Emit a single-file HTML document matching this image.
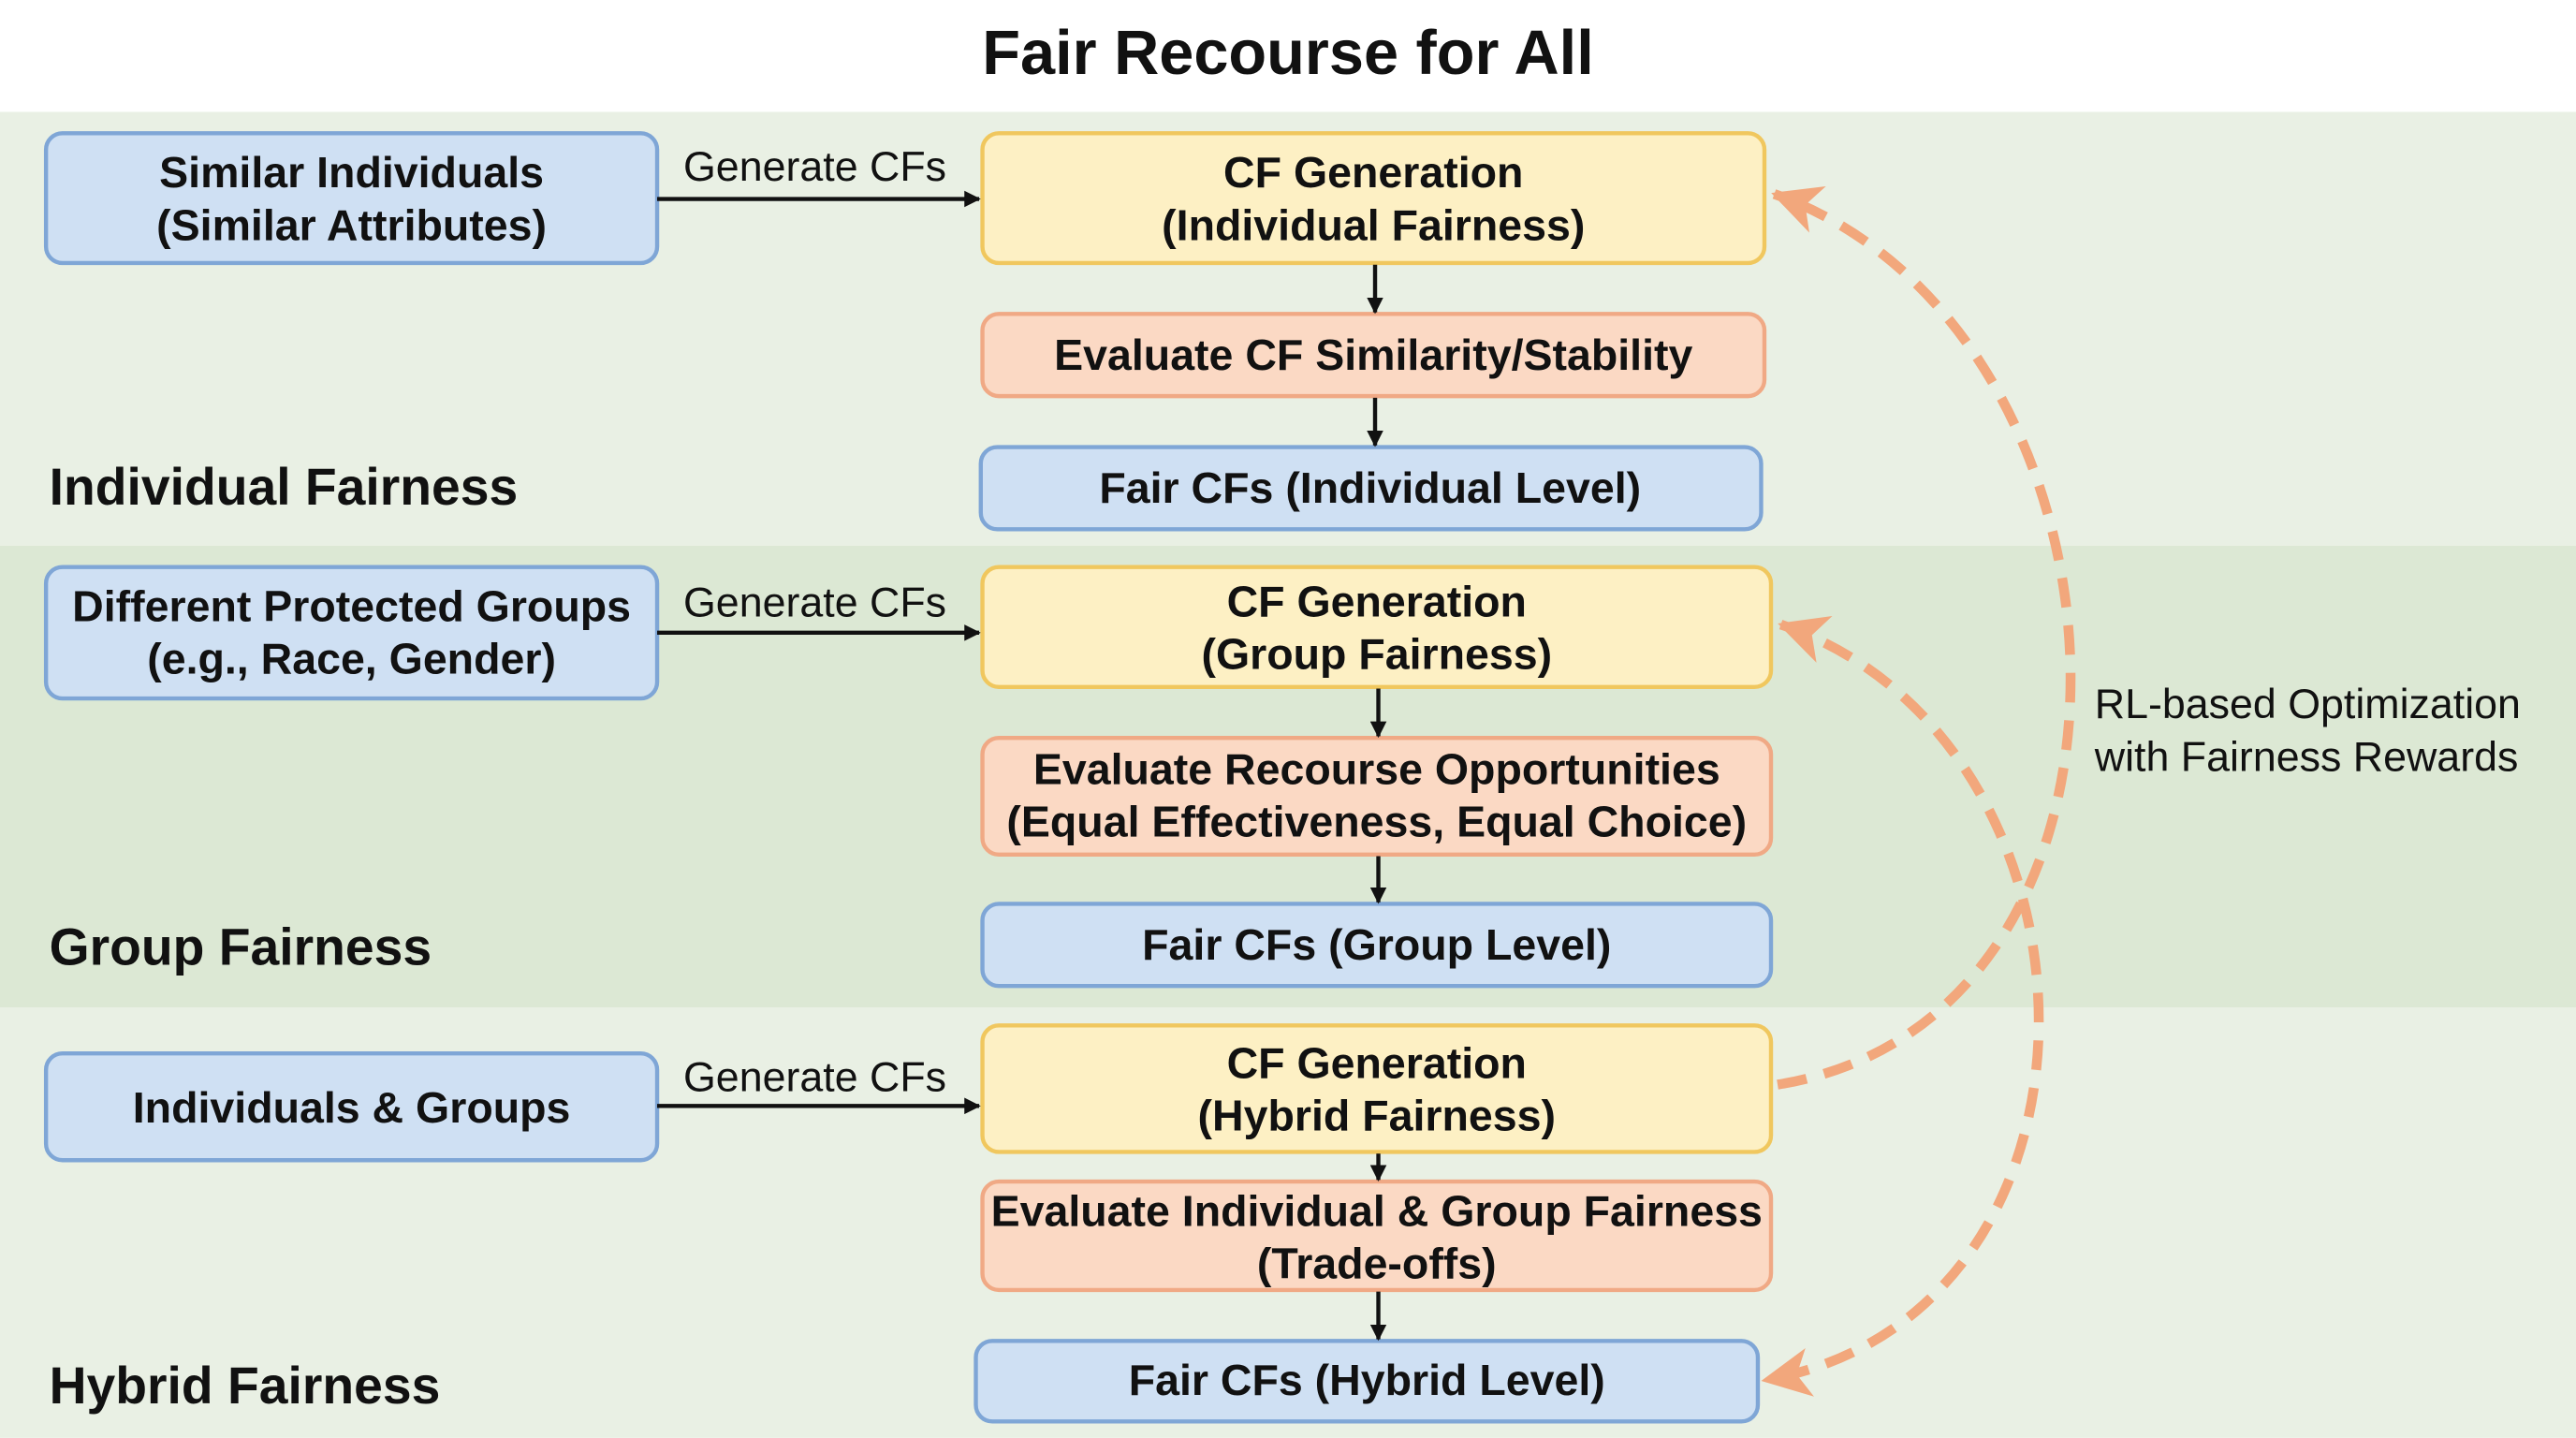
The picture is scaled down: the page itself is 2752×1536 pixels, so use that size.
<!DOCTYPE html>
<html><head><meta charset="utf-8"><style>
html,body{margin:0;padding:0;background:#fff}
svg{display:block}
text{font-family:"Liberation Sans",Arial,sans-serif;fill:#111}
.b{font-weight:bold;font-size:26.5px}
.n{font-size:25.5px}
.h{font-weight:bold;font-size:31.5px}
</style></head><body>
<svg width="2752" height="1536" viewBox="0 0 1568 875" xmlns="http://www.w3.org/2000/svg">
<defs>
<marker id="ah" markerWidth="10" markerHeight="10" refX="9" refY="5" orient="auto" markerUnits="userSpaceOnUse"><path d="M0,0 L10,5 L0,10 z" fill="#111"/></marker>
<marker id="oh" markerWidth="34" markerHeight="34" refX="30" refY="17" orient="auto-start-reverse" markerUnits="userSpaceOnUse"><path d="M2,2 L32,17 L2,32 L10,17 z" fill="#f2a77c"/></marker>
</defs>
<rect x="0" y="0" width="1568" height="875" fill="#fff"/>
<rect x="0" y="68" width="1568" height="264" fill="#e9f0e4"/>
<rect x="0" y="332" width="1568" height="281" fill="#dce8d4"/>
<rect x="0" y="613" width="1568" height="262" fill="#e9f0e4"/>
<text x="784" y="45" text-anchor="middle" style="font-weight:bold;font-size:38px">Fair Recourse for All</text>

<g stroke-width="2.5">
<rect x="28" y="81" width="372" height="79" rx="10" fill="#cfe0f3" stroke="#7fa6d6"/>
<rect x="598" y="81" width="476" height="79" rx="10" fill="#fdf0c4" stroke="#f0c75e"/>
<rect x="598" y="191" width="476" height="50" rx="10" fill="#fbd9c4" stroke="#f0a985"/>
<rect x="597" y="272" width="475" height="50" rx="10" fill="#cfe0f3" stroke="#7fa6d6"/>
<rect x="28" y="345" width="372" height="80" rx="10" fill="#cfe0f3" stroke="#7fa6d6"/>
<rect x="598" y="345" width="480" height="73" rx="10" fill="#fdf0c4" stroke="#f0c75e"/>
<rect x="598" y="449" width="480" height="71" rx="10" fill="#fbd9c4" stroke="#f0a985"/>
<rect x="598" y="550" width="480" height="50" rx="10" fill="#cfe0f3" stroke="#7fa6d6"/>
<rect x="28" y="641" width="372" height="65" rx="10" fill="#cfe0f3" stroke="#7fa6d6"/>
<rect x="598" y="624" width="480" height="77" rx="10" fill="#fdf0c4" stroke="#f0c75e"/>
<rect x="598" y="719" width="480" height="66" rx="10" fill="#fbd9c4" stroke="#f0a985"/>
<rect x="594" y="816" width="476" height="49" rx="10" fill="#cfe0f3" stroke="#7fa6d6"/>
</g>

<g stroke="#111" stroke-width="2.5" marker-end="url(#ah)">
<line x1="400" y1="121" x2="596" y2="121"/>
<line x1="400" y1="385" x2="596" y2="385"/>
<line x1="400" y1="673" x2="596" y2="673"/>
<line x1="837" y1="161" x2="837" y2="190"/>
<line x1="837" y1="242" x2="837" y2="271"/>
<line x1="839" y1="419" x2="839" y2="448"/>
<line x1="839" y1="521" x2="839" y2="549"/>
<line x1="839" y1="702" x2="839" y2="718"/>
<line x1="839" y1="786" x2="839" y2="815"/>
</g>

<g fill="none" stroke="#f2a77c" stroke-width="6" stroke-dasharray="18,11">
<path d="M1082,660 C1330,620 1310,200 1080,118" marker-end="url(#oh)"/>
<path d="M1084,380 C1290,450 1300,800 1074,840" marker-start="url(#oh)" marker-end="url(#oh)"/>
</g>

<text class="b" x="214" y="114" text-anchor="middle">Similar Individuals</text>
<text class="b" x="214" y="146" text-anchor="middle">(Similar Attributes)</text>
<text class="b" x="836" y="114" text-anchor="middle">CF Generation</text>
<text class="b" x="836" y="146" text-anchor="middle">(Individual Fairness)</text>
<text class="b" x="836" y="225" text-anchor="middle">Evaluate CF Similarity/Stability</text>
<text class="b" x="834" y="306" text-anchor="middle">Fair CFs (Individual Level)</text>
<text class="h" x="30" y="307">Individual Fairness</text>

<text class="b" x="214" y="378" text-anchor="middle">Different Protected Groups</text>
<text class="b" x="214" y="410" text-anchor="middle">(e.g., Race, Gender)</text>
<text class="b" x="838" y="375" text-anchor="middle">CF Generation</text>
<text class="b" x="838" y="407" text-anchor="middle">(Group Fairness)</text>
<text class="b" x="838" y="477" text-anchor="middle">Evaluate Recourse Opportunities</text>
<text class="b" x="838" y="509" text-anchor="middle">(Equal Effectiveness, Equal Choice)</text>
<text class="b" x="838" y="584" text-anchor="middle">Fair CFs (Group Level)</text>
<text class="h" x="30" y="587">Group Fairness</text>

<text class="b" x="214" y="683" text-anchor="middle">Individuals &amp; Groups</text>
<text class="b" x="838" y="656" text-anchor="middle">CF Generation</text>
<text class="b" x="838" y="688" text-anchor="middle">(Hybrid Fairness)</text>
<text class="b" x="838" y="746" text-anchor="middle">Evaluate Individual &amp; Group Fairness</text>
<text class="b" x="838" y="778" text-anchor="middle">(Trade-offs)</text>
<text class="b" x="832" y="849" text-anchor="middle">Fair CFs (Hybrid Level)</text>
<text class="h" x="30" y="854">Hybrid Fairness</text>

<text class="n" x="496" y="110" text-anchor="middle">Generate CFs</text>
<text class="n" x="496" y="375" text-anchor="middle">Generate CFs</text>
<text class="n" x="496" y="664" text-anchor="middle">Generate CFs</text>
<text class="n" x="1275" y="437">RL-based Optimization</text>
<text class="n" x="1275" y="469">with Fairness Rewards</text>
</svg>
</body></html>
